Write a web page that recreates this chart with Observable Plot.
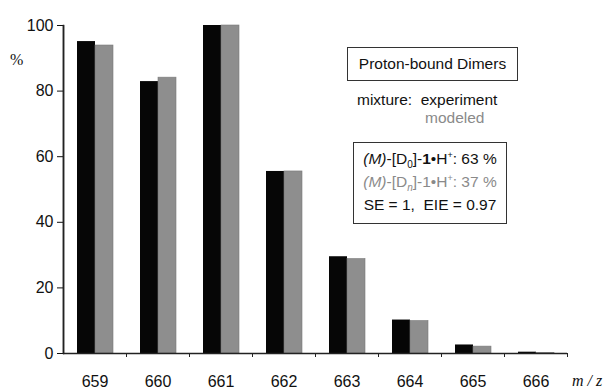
<!DOCTYPE html>
<html>
<head>
<meta charset="utf-8">
<script src="https://cdn.jsdelivr.net/npm/d3@7"></script>
<script src="https://cdn.jsdelivr.net/npm/@observablehq/plot@0.6"></script>
<style>
  body { margin: 0; background: #fff; }
  #wrap { position: relative; width: 604px; height: 390px; font-family: "Liberation Sans", Arial, sans-serif; color: #111; }
  .lbl { position: absolute; white-space: nowrap; font-size: 15.5px; line-height: 18px; }
  .box { position: absolute; border: 1px solid #333; box-sizing: border-box; text-align: center; font-size: 15.5px; }
  .box .ln { height: 23px; line-height: 23px; white-space: nowrap; }
  .gray { color: #8a8a8a; }
  .serif { font-family: "Liberation Serif", "Times New Roman", serif; }
  .sb { font-size: 10px; position: relative; top: 4px; vertical-align: baseline; }
  .sp { font-size: 9px; position: relative; top: -6px; vertical-align: baseline; }
</style>
</head>
<body>
<div id="wrap"></div>
<script>
const categories = ["659", "660", "661", "662", "663", "664", "665", "666"];
const experiment = [95.1, 82.9, 100, 55.5, 29.5, 10.2, 2.6, 0.4];
const modeled    = [93.9, 84.1, 100, 55.5, 28.8, 9.9, 2.1, 0.1];
const yTicks = [0, 20, 40, 60, 80, 100];

const expData = categories.map((c, i) => ({cat: c, value: experiment[i]}));
const modData = categories.map((c, i) => ({cat: c, value: modeled[i]}));

const chart = Plot.plot({
  width: 604,
  height: 390,
  marginLeft: 63,
  marginRight: 37,
  marginTop: 25,
  marginBottom: 37,
  style: {fontFamily: "'Liberation Sans', Arial, sans-serif", fontSize: "16px", color: "#111"},
  x: {domain: categories, padding: 0, label: null},
  y: {domain: [0, 100], label: null},
  marks: [
    Plot.barY(expData, {x: "cat", y: "value", fill: "#060606", insetLeft: 14, insetRight: 31}),
    Plot.barY(modData, {x: "cat", y: "value", fill: "#8e8e8e", stroke: "#7a7a7a", strokeWidth: 0.6, insetLeft: 32, insetRight: 13}),
    Plot.axisY({ticks: yTicks, tickSize: 6, tickPadding: 4, fontSize: 16, label: null}),
    Plot.frame({anchor: "left", stroke: "#222", strokeWidth: 1.5}),
    Plot.ruleX([categories[0]], {x: d => d, dx: -31.5, stroke: "#222", strokeWidth: 1.5}),
    Plot.axisX({tickSize: 0, tickPadding: 22, fontSize: 16, label: null}),
    Plot.axisX({tickSize: 4, text: null, dx: 31.5, label: null, stroke: "#222"}),
    Plot.ruleY([0], {stroke: "#222", strokeWidth: 1.3})
  ]
});

const wrap = document.getElementById("wrap");
wrap.appendChild(chart);

const html = `
  <div class="lbl serif" style="left:10px; top:51px; font-size:16px;">%</div>
  <div class="lbl serif" style="left:572px; top:372px; font-size:16px; font-style:italic;">m / z</div>
  <div class="box" style="left:347px; top:47px; width:171px; height:34px; line-height:32px;">Proton-bound Dimers</div>
  <div class="lbl" style="left:357px; top:91px;">mixture:&nbsp; experiment</div>
  <div class="lbl gray" style="left:425px; top:109px;">modeled</div>
  <div class="box" style="left:353px; top:142px; width:154px; height:82px; padding-top:4px;">
    <div class="ln"><i>(M)</i>-[D<span class="sb">0</span>]-<b>1</b>•H<span class="sp">+</span>: 63 %</div>
    <div class="ln gray"><i>(M)</i>-[D<span class="sb"><i>n</i></span>]-1•H<span class="sp">+</span>: 37 %</div>
    <div class="ln">SE = 1,&nbsp; EIE = 0.97</div>
  </div>
`;
wrap.insertAdjacentHTML("beforeend", html);
</script>
</body>
</html>
